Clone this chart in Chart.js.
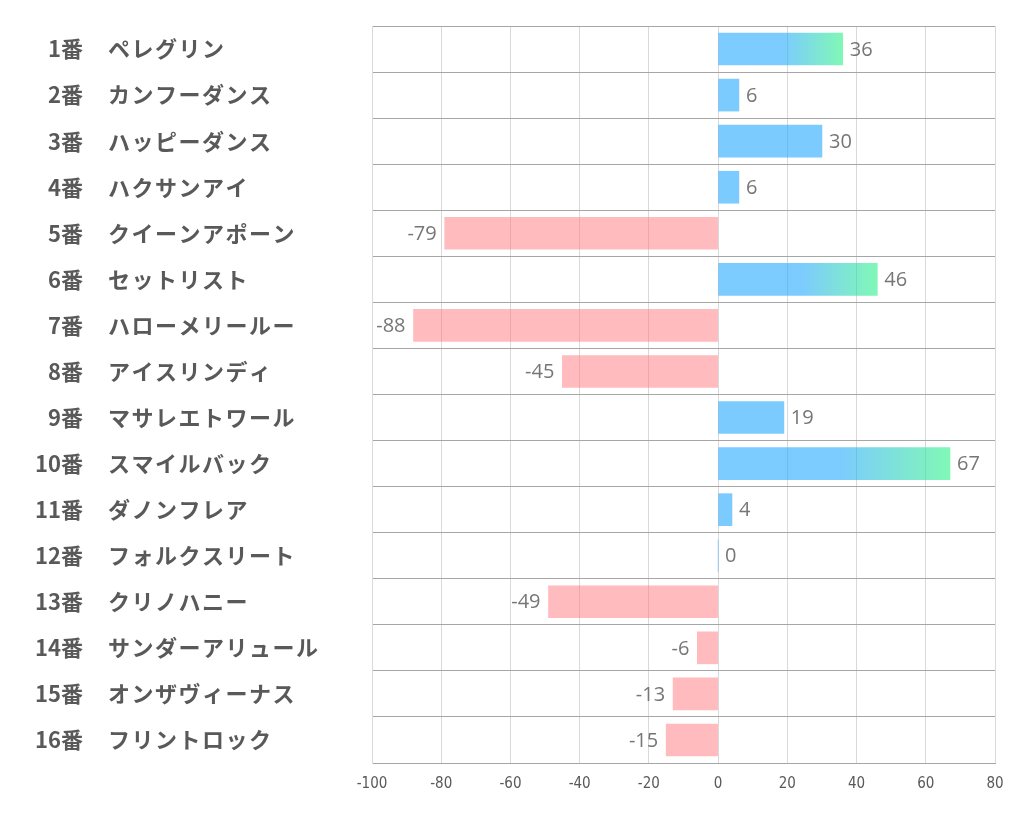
<!DOCTYPE html>
<html>
<head>
<meta charset="utf-8">
<script src="https://cdn.jsdelivr.net/npm/chart.js@4"></script>
<style>
  html, body { margin: 0; padding: 0; background: #fff; }
  #chart { display: block; }
</style>
</head>
<body>
<canvas id="chart" width="1022" height="834"></canvas>
<script>
    'use strict';

    // horse numbers and names (row order top to bottom)
    var numbers = ['1番', '2番', '3番', '4番', '5番', '6番', '7番', '8番',
                   '9番', '10番', '11番', '12番', '13番', '14番', '15番', '16番'];
    var names = ['ペレグリン', 'カンフーダンス', 'ハッピーダンス', 'ハクサンアイ', 'クイーンアポーン',
                 'セットリスト', 'ハローメリールー', 'アイスリンディ', 'マサレエトワール', 'スマイルバック',
                 'ダノンフレア', 'フォルクスリート', 'クリノハニー', 'サンダーアリュール',
                 'オンザヴィーナス', 'フリントロック'];
    var values = [36, 6, 30, 6, -79, 46, -88, -45, 19, 67, 4, 0, -49, -6, -13, -15];
    // rows that get the blue -> green gradient
    var highlighted = [0, 5, 9];
    var xMin = -100, xMax = 80, xStep = 20;

    var blue = 'rgba(37,168,255,0.6)';
    var green = 'rgba(43,243,133,0.6)';
    var pink = 'rgba(255,119,125,0.5)';

    var barColor = function (c) {
        var v = values[c.dataIndex];
        if (v < 0) return pink;
        if (highlighted.indexOf(c.dataIndex) < 0) return blue;
        var chart = c.chart;
        if (!chart.chartArea) return blue;
        var xs = chart.scales.x;
        var x0 = xs.getPixelForValue(0), x1 = xs.getPixelForValue(v);
        var g = chart.ctx.createLinearGradient(x0, 0, x1, 0);
        g.addColorStop(0, blue);
        g.addColorStop(0.52, blue);
        g.addColorStop(1, green);
        return g;
    };

    // left side labels: number right aligned, name left aligned
    var rowLabels = {
        id: 'rowLabels',
        afterDraw: function (chart) {
            var ctx = chart.ctx;
            var ys = chart.scales.y;
            ctx.save();
            ctx.font = 'bold 22px "Noto Sans CJK JP", sans-serif';
            ctx.fillStyle = '#595959';
            ctx.textBaseline = 'middle';
            for (var i = 0; i < numbers.length; i++) {
                var y = ys.getPixelForValue(i);
                ctx.letterSpacing = '0px';
                ctx.textAlign = 'right';
                ctx.fillText(numbers[i], 83, y);
                ctx.letterSpacing = '1.5px';
                ctx.textAlign = 'left';
                ctx.fillText(names[i], 108, y);
            }
            ctx.restore();
        }
    };

    // value labels at bar ends
    var valueLabels = {
        id: 'valueLabels',
        afterDatasetsDraw: function (chart) {
            var ctx = chart.ctx;
            var meta = chart.getDatasetMeta(0);
            ctx.save();
            ctx.font = '20px "Open Sans", sans-serif';
            ctx.fillStyle = '#767676';
            ctx.textBaseline = 'middle';
            meta.data.forEach(function (bar, i) {
                var v = values[i];
                if (v < 0) {
                    ctx.textAlign = 'right';
                    ctx.fillText(String(v), bar.x - 8, bar.y + 1);
                } else {
                    ctx.textAlign = 'left';
                    ctx.fillText(String(v), bar.x + 7, bar.y + 1);
                }
            });
            ctx.restore();
        }
    };

    var ctx = document.getElementById('chart').getContext('2d');
    var myChart = new Chart(ctx, {
        type: 'bar',
        data: {
            labels: names,
            datasets: [{
                data: values,
                backgroundColor: barColor,
                borderWidth: 0,
                barThickness: 32
            }]
        },
        options: {
            indexAxis: 'y',
            responsive: false,
            animation: false,
            layout: { padding: { top: 26, right: 27, bottom: 0, left: 0 } },
            plugins: {
                legend: { display: false },
                tooltip: { enabled: false }
            },
            scales: {
                x: {
                    min: xMin,
                    max: xMax,
                    ticks: {
                        stepSize: xStep,
                        color: '#595959',
                        padding: 12,
                        font: { family: '"Liberation Sans Narrow", "DejaVu Sans Condensed", sans-serif', size: 15 }
                    },
                    grid: { color: '#d9d9d9', lineWidth: 1, drawTicks: false },
                    border: { color: '#a6a6a6' },
                    afterFit: function (scale) { scale.height = 71; }
                },
                y: {
                    ticks: { display: false },
                    grid: { color: '#a6a6a6', lineWidth: 1, offset: true, drawTicks: false },
                    border: { color: '#d9d9d9' },
                    afterFit: function (scale) { scale.width = 372; }
                }
            }
        },
        plugins: [rowLabels, valueLabels]
    });
</script>
</body>
</html>
